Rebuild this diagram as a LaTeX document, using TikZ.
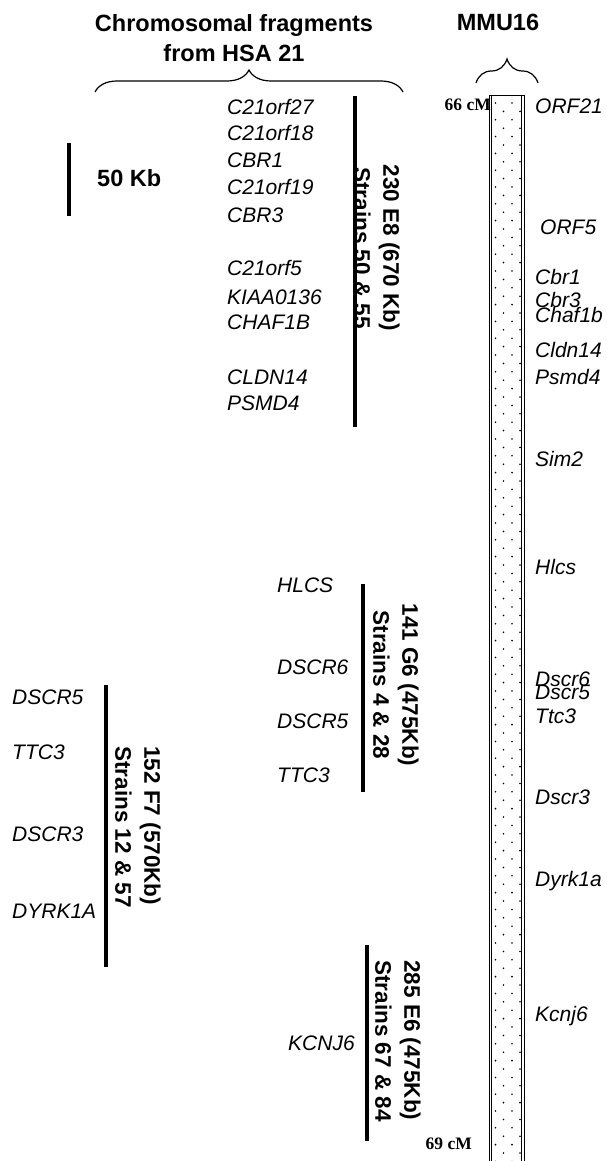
\documentclass[tikz,border=0pt]{standalone}
\usepackage{fontspec}
\setmainfont{Liberation Sans}
\newfontfamily\cmfont{Liberation Serif}
\usetikzlibrary{decorations.pathreplacing}

\begin{document}
\begin{tikzpicture}[
        x=1pt, y=-1pt,
        every node/.style={inner sep=0pt},
        gene/.style={anchor=base west, font=\fontsize{21}{25}\selectfont\itshape},
        head/.style={align=center, font=\fontsize{23.5}{30}\selectfont\bfseries},
        clone/.style={rotate=-90, align=center, font=\fontsize{22.5}{29}\selectfont\bfseries},
        fragment/.style={line width=4.5pt},
        cmark/.style={anchor=base east, font=\fontsize{17.5}{20}\selectfont\cmfont\bfseries},
        bracket/.style={decorate, decoration={brace, amplitude=#1}, line width=1.2pt},
        chrom/.style={line width=0.8pt},
    ]
    \useasboundingbox (0,0) rectangle (606,1161);

    \node[head] (hsa) at (234,38) {Chromosomal fragments\\from HSA 21};
    \node[head] (mmu) at (498,22) {MMU16};
    \draw[bracket=22pt] (95,92) -- (403,92);
    \draw[bracket=24pt] (476,83) -- (538,83);

    % scale bar
    \coordinate (bartop) at (69,143);
    \coordinate (barbot) at (69,216);
    \draw[fragment] (bartop) -- (barbot);
    \node[anchor=base west, font=\fontsize{23.5}{28}\selectfont\bfseries] (kb) at (97,186.5) {50 Kb};

    % MMU16
    \fill[white] (489,95) rectangle (524,1165);
    \foreach \yy in {103,119.8,...,1165} {
        \fill (495.5,\yy) circle (0.9pt);
        \fill (512,\yy) circle (0.9pt);
    }
    \foreach \yy in {111.4,128.2,...,1165} {
        \fill (503.5,\yy) circle (0.9pt);
        \fill (520,\yy) circle (0.9pt);
    }
    \draw[chrom] (489,1165) -- (489,95) -- (524,95) -- (524,1165);
    \draw[chrom] (491.2,1165) -- (491.2,95.4);
    \draw[chrom] (521.8,1165) -- (521.8,95.4);
    \node[cmark] (cm66) at (491,111) {66 cM};
    \node[cmark] (cm69) at (472,1149) {69 cM};

    \node[gene] (orf21) at (535,113.5) {ORF21};
    \node[gene] (orf5) at (540,234.5) {ORF5};
    \node[gene] (cbr1) at (535,284.5) {Cbr1};
    \node[gene] (cbr3) at (535,307.5) {Cbr3};
    \node[gene] (chaf1b) at (535,322.5) {Chaf1b};
    \node[gene] (cldn14) at (535,357.5) {Cldn14};
    \node[gene] (psmd4) at (535,384.5) {Psmd4};
    \node[gene] (sim2) at (535,466.5) {Sim2};
    \node[gene] (hlcs) at (535,574.5) {Hlcs};
    \node[gene] (dscr6) at (535,686.5) {Dscr6};
    \node[gene] (dscr5) at (535,699.5) {Dscr5};
    \node[gene] (ttc3) at (535,723.5) {Ttc3};
    \node[gene] (dscr3) at (535,804.5) {Dscr3};
    \node[gene] (dyrk1a) at (535,886.5) {Dyrk1a};
    \node[gene] (kcnj6) at (535,1021.5) {Kcnj6};

    % 230 E8
    \coordinate (e8top) at (355,96);
    \coordinate (e8bot) at (355,427);
    \draw[fragment] (e8top) -- (e8bot);
    \node[clone] (e8) at (377,248) {230 E8 (670 Kb)\\Strains 50 \& 55};
    \node[gene] (hc21orf27) at (227,114.5) {C21orf27};
    \node[gene] (hc21orf18) at (227,140.5) {C21orf18};
    \node[gene] (hcbr1) at (227,167.5) {CBR1};
    \node[gene] (hc21orf19) at (227,194.5) {C21orf19};
    \node[gene] (hcbr3) at (227,222.5) {CBR3};
    \node[gene] (hc21orf5) at (227,275.5) {C21orf5};
    \node[gene] (hkiaa) at (227,304.5) {KIAA0136};
    \node[gene] (hchaf1b) at (227,329.5) {CHAF1B};
    \node[gene] (hcldn14) at (227,384.5) {CLDN14};
    \node[gene] (hpsmd4) at (227,410.5) {PSMD4};

    % 141 G6
    \coordinate (g6top) at (363,584);
    \coordinate (g6bot) at (363,792);
    \draw[fragment] (g6top) -- (g6bot);
    \node[clone] (g6) at (396,685) {141 G6 (475Kb)\\Strains 4 \& 28};
    \node[gene] (ghlcs) at (277,592.5) {HLCS};
    \node[gene] (gdscr6) at (277,674.5) {DSCR6};
    \node[gene] (gdscr5) at (277,728.5) {DSCR5};
    \node[gene] (gttc3) at (277,782.5) {TTC3};

    % 152 F7
    \coordinate (f7top) at (106,685);
    \coordinate (f7bot) at (106,967);
    \draw[fragment] (f7top) -- (f7bot);
    \node[clone, align=left] (f7) at (138,827) {152 F7 (570Kb)\\Strains 12 \& 57};
    \node[gene] (fdscr5) at (12,704.5) {DSCR5};
    \node[gene] (fttc3) at (12,759.5) {TTC3};
    \node[gene] (fdscr3) at (12,841.5) {DSCR3};
    \node[gene] (fdyrk1a) at (12,918.5) {DYRK1A};

    % 285 E6
    \coordinate (e6top) at (367,945);
    \coordinate (e6bot) at (367,1141);
    \draw[fragment] (e6top) -- (e6bot);
    \node[clone, align=left] (e6) at (398,1041) {285 E6 (475Kb)\\Strains 67 \& 84};
    \node[gene] (ekcnj6) at (288,1050.5) {KCNJ6};
\end{tikzpicture}
\end{document}
